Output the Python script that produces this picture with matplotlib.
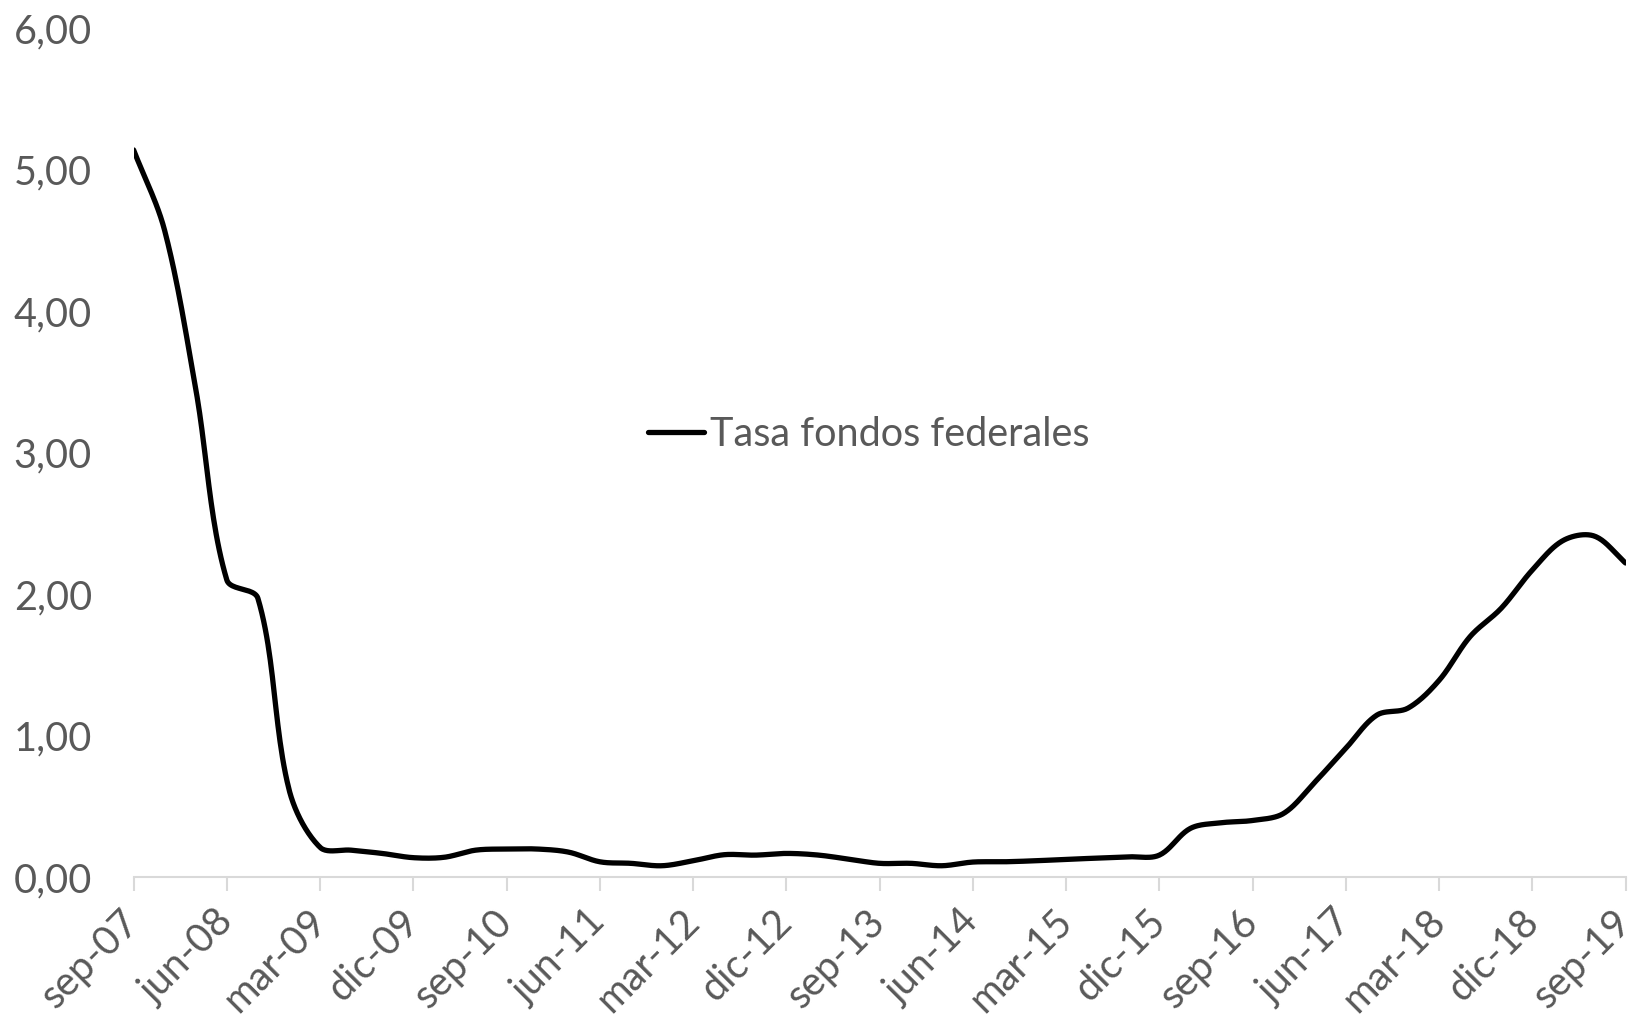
import numpy as np
import matplotlib
matplotlib.use("Agg")
import matplotlib.pyplot as plt

# Tasa de fondos federales, promedio trimestral (sep-07 a sep-19)
tasa = [5.14, 4.57, 3.45, 2.10, 1.97, 0.62, 0.21, 0.19, 0.167, 0.137,
        0.14, 0.19, 0.198, 0.198, 0.176, 0.108, 0.097, 0.08, 0.115, 0.158,
        0.155, 0.167, 0.156, 0.127, 0.097, 0.097, 0.08, 0.106, 0.108, 0.115,
        0.125, 0.134, 0.143, 0.155, 0.344, 0.384, 0.40, 0.45, 0.67, 0.91,
        1.145, 1.194, 1.39, 1.70, 1.90, 2.17, 2.38, 2.41, 2.22]
etiquetas = ["sep-07", "jun-08", "mar-09", "dic-09", "sep-10", "jun-11",
             "mar-12", "dic-12", "sep-13", "jun-14", "mar-15", "dic-15",
             "sep-16", "jun-17", "mar-18", "dic-18", "sep-19"]
paso_etiqueta = 3
serie = "Tasa fondos federales"

GRIS = "#595959"
plt.rcParams["font.family"] = ["Lato", "DejaVu Sans"]


def suavizar(y, sx=31.07, sy=141.5, n=24):
    # curva Bezier tipo Excel: tangentes escaladas por longitud de cuerda en pixeles
    p = np.column_stack([np.arange(len(y)) * sx, np.asarray(y, float) * sy])
    m = len(p)
    out = []
    for i in range(m - 1):
        p0, p3 = p[i], p[i + 1]
        pm = p[i - 1] if i > 0 else p0
        pp = p[i + 2] if i + 2 < m else p3
        d0 = np.hypot(*(p0 - pm))
        d1 = np.hypot(*(p3 - p0))
        d2 = np.hypot(*(pp - p3))
        t0 = (p3 - pm) * (d1 / (d0 + d1)) / 3 if d0 + d1 > 0 else 0
        t1 = (pp - p0) * (d1 / (d1 + d2)) / 3 if d1 + d2 > 0 else 0
        p1 = p0 + t0
        p2 = p3 - t1
        t = np.linspace(0, 1, n, endpoint=(i == m - 2))[:, None]
        out.append((1 - t) ** 3 * p0 + 3 * (1 - t) ** 2 * t * p1
                   + 3 * (1 - t) * t ** 2 * p2 + t ** 3 * p3)
    c = np.vstack(out)
    return c[:, 0] / sx, c[:, 1] / sy


fig = plt.figure(figsize=(16.37, 10.27), dpi=100)
ax = fig.add_axes([0.0816, 0.146, 0.9114, 0.8265])

xs, ys = suavizar(tasa)
ax.plot(xs, ys, color="black", lw=3.8, solid_capstyle="round", label=serie)

ax.set_xlim(0, len(tasa) - 1)
ax.set_ylim(0, 6)
ax.set_yticks(np.arange(0, 7, 1))
ax.set_yticklabels(["%d,00" % v for v in range(7)])
ax.set_xticks(np.arange(0, len(tasa), paso_etiqueta))
ax.set_xticklabels(etiquetas, rotation=45, ha="right", va="center",
                   rotation_mode="anchor")

for s in ["top", "right", "left"]:
    ax.spines[s].set_visible(False)
ax.spines["bottom"].set_color("#d9d9d9")
ax.spines["bottom"].set_linewidth(1.5)
ax.tick_params(axis="x", colors="#d9d9d9", length=10, width=1.5,
               labelcolor=GRIS, labelsize=28.5, pad=18)
ax.tick_params(axis="y", length=0, labelcolor=GRIS, labelsize=28.5, pad=30)

ax.legend(loc="center left", bbox_to_anchor=(0.345, 0.521), frameon=False,
          fontsize=28.5, labelcolor=GRIS, handlelength=1.4, handletextpad=0.15,
          borderpad=0, borderaxespad=0)

fig.savefig("out.png", dpi=100)
